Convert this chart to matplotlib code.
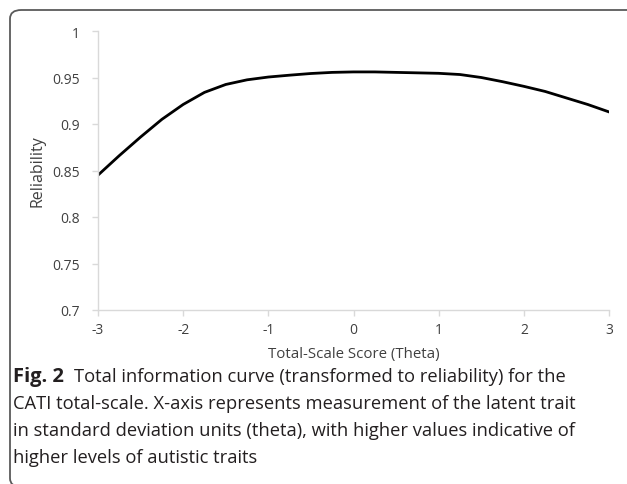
import matplotlib
matplotlib.use('Agg')
from matplotlib import pyplot as plt
from matplotlib.patches import FancyBboxPatch
import numpy as np

# reliability curve
theta = [-3, -2.75, -2.5, -2.25, -2, -1.75, -1.5, -1.25, -1, -0.75, -0.5, -0.25,
         0, 0.25, 0.5, 0.75, 1, 1.25, 1.5, 1.75, 2, 2.25, 2.5, 2.75, 3]
reliability = [0.845, 0.866, 0.886, 0.905, 0.921, 0.934, 0.9425, 0.9475, 0.9505, 0.9525,
               0.9543, 0.9555, 0.956, 0.956, 0.9555, 0.955, 0.9545, 0.9532, 0.950,
               0.9455, 0.9405, 0.935, 0.928, 0.921, 0.913]
xticks = [-3, -2, -1, 0, 1, 2, 3]
yticks = [0.7, 0.75, 0.8, 0.85, 0.9, 0.95, 1]
ytick_labels = ['0.7', '0.75', '0.8', '0.85', '0.9', '0.95', '1']

caption_bold = 'Fig. 2'
caption_lines = [
    'Total information curve (transformed to reliability) for the',
    'CATI total-scale. X-axis represents measurement of the latent trait',
    'in standard deviation units (theta), with higher values indicative of',
    'higher levels of autistic traits',
]

plt.rcParams['font.family'] = ['Open Sans', 'DejaVu Sans']

W, H = 627, 485
fig = plt.figure(figsize=(W / 100, H / 100), dpi=100)

# rounded frame, right and bottom run off the picture
frame = FancyBboxPatch((10 / W, 1 - 488 / H), 1.2, (488 - 11) / H,
                       boxstyle='round,pad=0,rounding_size=0.018',
                       transform=fig.transFigure, fill=False,
                       edgecolor='#5a5a5a', linewidth=1.3)
fig.patches.append(frame)

ax = fig.add_axes([98 / W, 1 - 311 / H, (609 - 98) / W, (311 - 32) / H])
ax.plot(theta, reliability, color='black', linewidth=2.0)

ax.set_xlim(-3, 3)
ax.set_ylim(0.7, 1)
ax.set_xticks(xticks)
ax.set_xticklabels([str(t) for t in xticks])
ax.set_yticks(yticks)
ax.set_yticklabels(ytick_labels)

for s in ['top', 'right']:
    ax.spines[s].set_visible(False)
for s in ['left', 'bottom']:
    ax.spines[s].set_color('#d9d9d9')
    ax.spines[s].set_linewidth(1.0)
ax.tick_params(axis='both', colors='#d9d9d9', labelcolor='#404040',
               labelsize=10, length=4, width=1.0, direction='out')
ax.tick_params(axis='x', pad=5)
ax.tick_params(axis='y', pad=9)

ax.set_xlabel('Total-Scale Score (Theta)', fontsize=10.8, color='#404040', labelpad=6)
ax.set_ylabel('Reliability', fontsize=11.5, color='#404040', labelpad=5)

# caption
fig.text(13 / W, 1 - 377 / H, caption_bold, fontsize=14.5, fontweight='bold',
         color='#231f20', va='center', ha='left')
fig.text(74 / W, 1 - 377 / H, caption_lines[0], fontsize=13.2,
         color='#231f20', va='center', ha='left')
for i, line in enumerate(caption_lines[1:]):
    fig.text(13 / W, 1 - (404 + 27 * i) / H, line, fontsize=13.2,
             color='#231f20', va='center', ha='left')

fig.savefig('out.png', dpi=100)
